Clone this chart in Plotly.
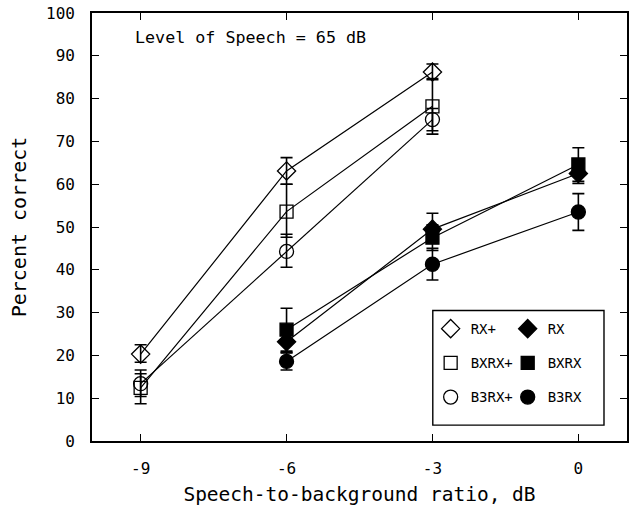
import plotly.graph_objects as go

# Speech-to-background ratios (dB)
snr_plus = [-9, -6, -3]
snr_base = [-6, -3, 0]

# Percent correct, processed conditions (open symbols)
rx_plus = [20.3, 63.1, 86.2]
rx_plus_hi = [2.2, 3.1, 1.9]
rx_plus_lo = [1.9, 3.1, 1.8]

bxrx_plus = [12.4, 53.6, 78.2]
bxrx_plus_hi = [3.3, 6.4, 6.5]
bxrx_plus_lo = [3.7, 6.0, 6.5]

b3rx_plus = [13.4, 44.3, 75.1]
b3rx_plus_hi = [3.2, 4.0, 2.6]
b3rx_plus_lo = [3.0, 3.7, 2.6]

# Percent correct, baseline conditions (filled symbols)
rx = [23.2, 49.5, 62.5]
rx_hi = [2.5, 3.7, 2.3]
rx_lo = [2.5, 3.0, 2.3]

bxrx = [26.0, 47.5, 64.6]
bxrx_hi = [5.0, 3.0, 3.9]
bxrx_lo = [5.0, 3.0, 3.9]

b3rx = [18.6, 41.3, 53.5]
b3rx_hi = [2.0, 3.7, 4.3]
b3rx_lo = [2.0, 3.7, 4.3]

y_ticks = list(range(0, 101, 10))
x_ticks = [-9, -6, -3, 0]

FONT = "DejaVu Sans Mono"
INK = "black"

# (name, x, y, err+, err-, symbol, size, legend column)
series = [
    ("RX+", snr_plus, rx_plus, rx_plus_hi, rx_plus_lo, "diamond-open", 14, "legend"),
    ("RX", snr_base, rx, rx_hi, rx_lo, "diamond", 14, "legend2"),
    ("BXRX+", snr_plus, bxrx_plus, bxrx_plus_hi, bxrx_plus_lo, "square-open", 13, "legend"),
    ("BXRX", snr_base, bxrx, bxrx_hi, bxrx_lo, "square", 13, "legend2"),
    ("B3RX+", snr_plus, b3rx_plus, b3rx_plus_hi, b3rx_plus_lo, "circle-open", 14, "legend"),
    ("B3RX", snr_base, b3rx, b3rx_hi, b3rx_lo, "circle", 14, "legend2"),
]

fig = go.Figure()

for name, xs, ys, hi, lo, sym, size, leg in series:
    fig.add_trace(go.Scatter(
        x=xs, y=ys, mode="lines+markers", name=name, showlegend=False,
        line=dict(color=INK, width=1.2),
        marker=dict(symbol=sym, size=size, color=INK,
                    line=dict(color=INK, width=1.3)),
        error_y=dict(type="data", symmetric=False, array=hi, arrayminus=lo,
                     color=INK, thickness=1.6, width=6),
    ))

# Legend entries: markers only, two columns (open / filled)
for name, xs, ys, hi, lo, sym, size, leg in series:
    fig.add_trace(go.Scatter(
        x=[None], y=[None], mode="markers", name=name, showlegend=True,
        legend=leg, legendgroup=name,
        marker=dict(symbol=sym, size=size, color=INK,
                    line=dict(color=INK, width=1.3)),
    ))

axis_common = dict(
    showline=True, linecolor=INK, linewidth=1.6, mirror="ticks",
    ticks="inside", ticklen=7, tickwidth=1.4, tickcolor=INK,
    showgrid=False, zeroline=False,
    tickfont=dict(family=FONT, size=16, color=INK),
)

legend_common = dict(
    orientation="v", yanchor="top", xanchor="left",
    bgcolor="rgba(0,0,0,0)", borderwidth=0,
    font=dict(family=FONT, size=14, color=INK),
    itemsizing="trace", traceorder="grouped", tracegroupgap=13,
)

fig.update_layout(
    width=633, height=506,
    margin=dict(l=92, r=4, t=13, b=64),
    paper_bgcolor="white", plot_bgcolor="white",
    xaxis=dict(range=[-10, 1], tickvals=x_ticks,
               ticktext=[str(v) for v in x_ticks],
               ticklabelstandoff=12,
               title=dict(text="Speech-to-background ratio, dB",
                          font=dict(family=FONT, size=19.5, color=INK),
                          standoff=10),
               **axis_common),
    yaxis=dict(range=[0, 100], tickvals=y_ticks,
               ticklabelstandoff=12,
               title=dict(text="Percent correct",
                          font=dict(family=FONT, size=20, color=INK),
                          standoff=14),
               **axis_common),
    legend=dict(x=0.633, y=0.299, **legend_common),
    legend2=dict(x=0.777, y=0.299, **legend_common),
    shapes=[dict(
        type="rect", xref="paper", yref="paper", layer="above",
        x0=0.637, x1=0.957, y0=0.037, y1=0.305,
        line=dict(color=INK, width=1.4), fillcolor="white",
    )],
    annotations=[dict(
        text="Level of Speech = 65 dB", xref="paper", yref="paper",
        x=0.076, y=0.944, xanchor="left", yanchor="middle", showarrow=False,
        font=dict(family=FONT, size=16.7, color=INK),
    )],
)

fig.write_html("out.html")
